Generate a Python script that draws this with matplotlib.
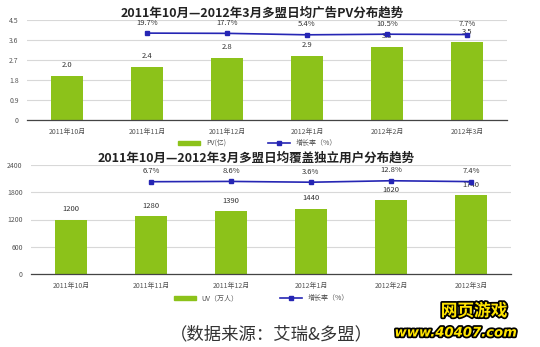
import matplotlib
matplotlib.use("Agg")
import matplotlib.pyplot as plt
import matplotlib.patheffects as pe
from matplotlib.patches import Patch
from matplotlib.lines import Line2D

plt.rcParams['font.family'] = ['Noto Sans CJK SC', 'DejaVu Sans']

months = ["2011年10月", "2011年11月", "2011年12月", "2012年1月", "2012年2月", "2012年3月"]
pv = [2.0, 2.4, 2.8, 2.9, 3.3, 3.5]
pv_growth = [None, 19.7, 17.7, 5.4, 10.5, 7.7]
uv = [1200, 1280, 1390, 1440, 1620, 1740]
uv_growth = [None, 6.7, 8.6, 3.6, 12.8, 7.4]

green = '#8cc21a'
blue = '#2626b4'
grey = '#555555'

W, H = 540, 347
fig = plt.figure(figsize=(W / 100, H / 100), dpi=100)


def px_axes(left, top, right, bottom):
    return fig.add_axes([left / W, 1 - bottom / H, (right - left) / W, (bottom - top) / H])


def draw_panel(ax, values, growth, ticks, fmt, gr_lim, title, title_x, bar_label):
    x = list(range(len(values)))
    ax.set_xlim(-0.5, len(values) - 0.5)
    ax.set_ylim(ticks[0], ticks[-1])
    ax.set_yticks(ticks)
    ax.set_yticklabels([fmt(t) for t in ticks])
    ax.grid(axis='y', color='#d8d8d8', linewidth=0.8)
    ax.set_axisbelow(True)
    for s in ['top', 'right', 'left']:
        ax.spines[s].set_visible(False)
    ax.spines['bottom'].set_color('#444444')
    ax.spines['bottom'].set_linewidth(0.9)
    ax.tick_params(length=0, labelsize=5, labelcolor=grey, pad=6)
    ax.set_xticks(x)
    ax.set_xticklabels(months)
    ax.bar(x, values, width=0.4, color=green, zorder=2)
    for xi, v in zip(x, values):
        ax.annotate(fmt(v) if isinstance(v, int) else f"{v:.1f}", (xi, v),
                    xytext=(0, 6), textcoords='offset points', ha='center',
                    fontsize=5.5, color='#333333')
    ax.set_title(title, fontsize=9, fontweight='bold', color='#222222', pad=2, x=title_x)

    ax2 = ax.twinx()
    ax2.set_ylim(*gr_lim)
    ax2.axis('off')
    gx = [xi for xi, g in zip(x, growth) if g is not None]
    gy = [g for g in growth if g is not None]
    ax2.plot(gx, gy, color=blue, linewidth=1.2, marker='s', markersize=3)
    for xi, g in zip(gx, gy):
        ax2.annotate(f"{g}%", (xi, g), xytext=(0, 6), textcoords='offset points',
                     ha='center', fontsize=5.5, color='#333333')

    handles = [Patch(color=green), Line2D([0], [0], color=blue, marker='s', markersize=3, linewidth=1.2)]
    ax.legend(handles, [bar_label, "增长率（%）"], loc='upper center', bbox_to_anchor=(0.48, -0.13),
              ncol=2, frameon=False, fontsize=5, columnspacing=6, handlelength=3.2,
              handleheight=0.6, labelcolor=grey)


ax_top = px_axes(27, 20, 507, 120)
draw_panel(ax_top, pv, pv_growth, [0, 0.9, 1.8, 2.7, 3.6, 4.5],
           lambda t: "0" if t == 0 else f"{t:g}", (-711, 130),
           "2011年10月—2012年3月多盟日均广告PV分布趋势", 0.49, "PV(亿)")

ax_bot = px_axes(31, 165, 511, 274)
draw_panel(ax_bot, uv, uv_growth, [0, 600, 1200, 1800, 2400],
           lambda t: f"{t:g}", (-569, 111),
           "2011年10月—2012年3月多盟日均覆盖独立用户分布趋势", 0.47, "UV（万人）")

fig.text(271 / W, 1 - 334 / H, "（数据来源：艾瑞&多盟）", ha='center', va='center',
         fontsize=12.5, color='#333333')

outline = [pe.withStroke(linewidth=2.5, foreground='black')]
fig.text(474 / W, 1 - 311 / H, "网页游戏", ha='center', va='center', fontsize=12,
         fontweight='bold', color='#ffe400', path_effects=outline)
fig.text(456 / W, 1 - 333 / H, "www.40407.com", ha='center', va='center', fontsize=9.5,
         fontweight='bold', style='italic', color='#ffe400', path_effects=outline,
         family=['DejaVu Sans'])

fig.savefig("out.png", dpi=100)
